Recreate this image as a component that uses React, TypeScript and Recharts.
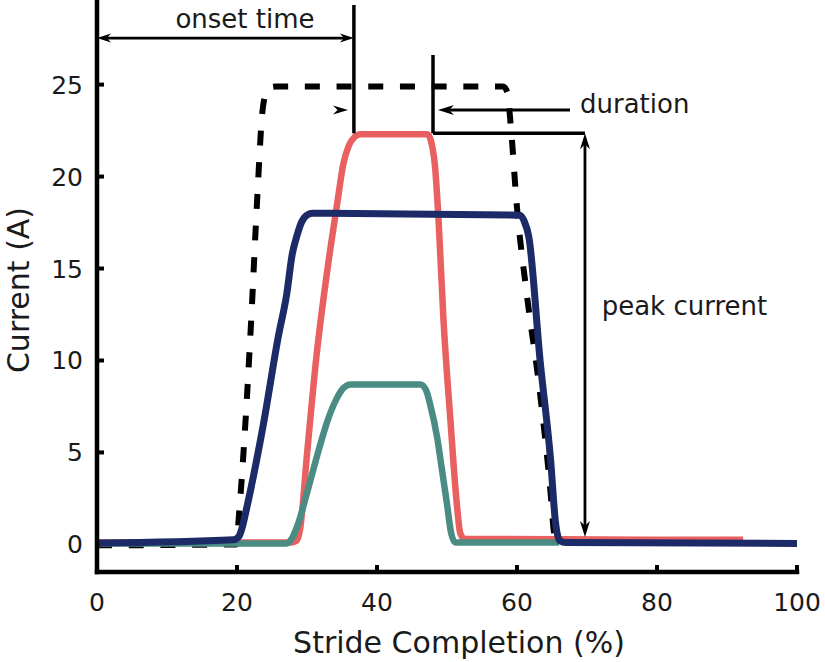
import React from 'react';
import { LineChart, Line, XAxis, YAxis, ReferenceLine, ReferenceDot, Label } from 'recharts';

// axis ticks
const xTicks = [0, 20, 40, 60, 80, 100];
const yTicks = [0, 5, 10, 15, 20, 25];

// commanded profile (dashed)
const cmdX = [0, 19.9, 20.3, 21.2, 22.0, 22.9, 23.6, 24.1, 24.7, 25.6, 58.0, 58.6, 59.1, 60.0, 61.4, 63.3, 64.8, 65.3, 65.8, 66.0];
const cmdY = [-0.05, 0, 1.7, 6.6, 12.0, 18.9, 23.4, 24.5, 24.85, 24.9, 24.9, 24.6, 22.8, 18.3, 13.6, 8.2, 2.8, 0.6, 0, -0.05];

// red series
const redX = [0, 27.8, 28.5, 29.0, 30.0, 31.4, 32.9, 34.3, 35.2, 36.0, 36.8, 37.6, 47.2, 47.8, 48.3, 48.8, 49.5, 50.5, 51.4, 51.9, 52.5, 92.3];
const redY = [0.1, 0.1, 0.2, 0.8, 4.9, 10.4, 14.9, 18.5, 20.7, 21.7, 22.15, 22.3, 22.3, 21.8, 20.5, 17.6, 12.2, 6.7, 2.2, 0.6, 0.3, 0.25];

// teal series
const tealX = [0, 27.0, 27.8, 28.8, 30.0, 31.5, 33.0, 34.2, 35.2, 36.2, 46.2, 47.0, 47.6, 48.6, 49.3, 50.0, 50.6, 51.2, 66.0];
const tealY = [0.05, 0.05, 0.3, 1.2, 2.8, 4.9, 6.8, 7.9, 8.5, 8.7, 8.7, 8.4, 7.6, 5.8, 4.0, 2.2, 0.6, 0.1, 0.1];

// navy series
const navyX = [0, 19.5, 20.3, 20.8, 21.4, 23.8, 25.9, 27.1, 27.9, 28.5, 29.2, 30.0, 30.8, 60.4, 61.0, 61.7, 63.3, 64.8, 65.5, 66.1, 67.0, 100];
const navyY = [0.07, 0.25, 0.45, 1.0, 2.0, 6.6, 11.3, 13.6, 15.8, 16.7, 17.5, 17.9, 18.0, 17.9, 17.6, 16.7, 10.0, 4.6, 1.2, 0.2, 0.1, 0.05];

// annotations (data coordinates)
const onsetX = 36.7;
const onsetArrowY = 27.53;
const onsetLineTop = 29.33;
const peakY = 22.35;
const smallHead = [35.86, 23.62];
const durX = 48.0;
const durTop = 26.61;
const durArrow = [67.57, 48.71, 23.62];
const peakX = 69.71;
const peakBottom = 0.4;
const labels = [
  { text: 'onset time', x: 21.14, y: 28.06, anchor: 'middle' },
  { text: 'duration', x: 69.0, y: 23.44, anchor: 'start' },
  { text: 'peak current', x: 72.1, y: 12.47, anchor: 'start' },
];

const toPts = (xs: number[], ys: number[]) => xs.map((x, i) => ({ x, y: ys[i] }));

const FONT = '"DejaVu Sans", sans-serif';
const INK = '#1a1a1a';

const head = (tx: number, ty: number, fx: number, fy: number, len: number, half: number) => {
  const d = Math.hypot(tx - fx, ty - fy) || 1;
  const ux = (tx - fx) / d;
  const uy = (ty - fy) / d;
  const px = -uy;
  const py = ux;
  const bx = tx - ux * len;
  const by = ty - uy * len;
  const nx = tx - ux * len * 0.7;
  const ny = ty - uy * len * 0.7;
  return `${tx},${ty} ${bx + px * half},${by + py * half} ${nx},${ny} ${bx - px * half},${by - py * half}`;
};

const arrowShape = (atStart: boolean, atEnd: boolean, len: number, half: number, w: number) => (p: any) => {
  const { x1, y1, x2, y2 } = p;
  const d = Math.hypot(x2 - x1, y2 - y1) || 1;
  const ux = (x2 - x1) / d;
  const uy = (y2 - y1) / d;
  const sx = atStart ? x1 + ux * len * 0.6 : x1;
  const sy = atStart ? y1 + uy * len * 0.6 : y1;
  const ex = atEnd ? x2 - ux * len * 0.6 : x2;
  const ey = atEnd ? y2 - uy * len * 0.6 : y2;
  return (
    <g>
      <line x1={sx} y1={sy} x2={ex} y2={ey} stroke="#000" strokeWidth={w} />
      {atStart && <polygon points={head(x1, y1, x2, y2, len, half)} fill="#000" />}
      {atEnd && <polygon points={head(x2, y2, x1, y1, len, half)} fill="#000" />}
    </g>
  );
};

const XTick = (props: any) => {
  const { x, y, payload } = props;
  const axisY = y - 21;
  return (
    <g>
      <line x1={x} y1={axisY} x2={x} y2={axisY - 7} stroke="#000" strokeWidth={4} />
      <text x={x} y={y} dy="0.71em" textAnchor="middle" fontSize={25} fontFamily={FONT} fill={INK}>
        {payload.value}
      </text>
    </g>
  );
};

const YTick = (props: any) => {
  const { x, y, payload } = props;
  const axisX = x + 14;
  return (
    <g>
      {payload.value !== 0 && <line x1={axisX} y1={y} x2={axisX + 7} y2={y} stroke="#000" strokeWidth={4} />}
      <text x={x} y={y} dy="0.36em" textAnchor="end" fontSize={25} fontFamily={FONT} fill={INK}>
        {payload.value}
      </text>
    </g>
  );
};

const App: React.FC = () => {
  return (
    <div style={{ position: 'absolute', left: 0, top: 0, width: 825, height: 662, background: '#fff' }}>
      <LineChart width={825} height={662} margin={{ top: 0, right: 28, left: 0, bottom: 0 }}>
        <XAxis
          type="number"
          dataKey="x"
          domain={[0, 100]}
          ticks={xTicks}
          height={90}
          tickSize={0}
          tickMargin={21}
          tickLine={false}
          tick={<XTick />}
          axisLine={{ stroke: '#000', strokeWidth: 4.5, strokeLinecap: 'square' }}
        >
          <Label
            content={(p: any) => {
              const vb = p.viewBox;
              return (
                <text x={vb.x + vb.width / 2 + 12} y={vb.y + 81} textAnchor="middle" fontSize={30} fontFamily={FONT} fill={INK}>
                  Stride Completion (%)
                </text>
              );
            }}
          />
        </XAxis>
        <YAxis
          type="number"
          domain={[-1.5, 29.6]}
          ticks={yTicks}
          width={97}
          tickSize={0}
          tickMargin={14}
          tickLine={false}
          tick={<YTick />}
          axisLine={{ stroke: '#000', strokeWidth: 4.5, strokeLinecap: 'square' }}
        >
          <Label
            content={(p: any) => {
              const vb = p.viewBox;
              const cx = 18;
              const cy = vb.y + vb.height / 2 + 4;
              return (
                <text x={cx} y={cy} dy="0.36em" textAnchor="middle" fontSize={30} fontFamily={FONT} fill={INK} transform={`rotate(-90 ${cx} ${cy})`}>
                  Current (A)
                </text>
              );
            }}
          />
        </YAxis>

        <Line data={toPts(cmdX, cmdY)} dataKey="y" type="monotone" stroke="#000" strokeWidth={6} strokeDasharray="15 16.7" dot={false} activeDot={false} isAnimationActive={false} />
        <Line data={toPts(redX, redY)} dataKey="y" type="monotone" stroke="#E8605F" strokeWidth={6.5} dot={false} activeDot={false} isAnimationActive={false} />
        <Line data={toPts(tealX, tealY)} dataKey="y" type="monotone" stroke="#4A8C84" strokeWidth={6.5} dot={false} activeDot={false} isAnimationActive={false} />
        <Line data={toPts(navyX, navyY)} dataKey="y" type="monotone" stroke="#1C2A68" strokeWidth={7} dot={false} activeDot={false} isAnimationActive={false} />

        <ReferenceLine segment={[{ x: onsetX, y: onsetLineTop }, { x: onsetX, y: peakY }]} stroke="#000" strokeWidth={3.5} ifOverflow="visible" />
        <ReferenceLine segment={[{ x: 0, y: onsetArrowY }, { x: onsetX, y: onsetArrowY }]} shape={arrowShape(true, true, 14, 4.5, 2.8)} ifOverflow="visible" />
        <ReferenceLine segment={[{ x: smallHead[0] - 2.2, y: smallHead[1] }, { x: smallHead[0], y: smallHead[1] }]} shape={(p: any) => <polygon points={head(p.x2, p.y2, p.x1, p.y1, 15, 4.5)} fill="#000" />} ifOverflow="visible" />
        <ReferenceLine segment={[{ x: durX, y: durTop }, { x: durX, y: peakY }]} stroke="#000" strokeWidth={3.5} ifOverflow="visible" />
        <ReferenceLine segment={[{ x: durX, y: peakY }, { x: peakX, y: peakY }]} stroke="#000" strokeWidth={3.5} ifOverflow="visible" />
        <ReferenceLine segment={[{ x: durArrow[0], y: durArrow[2] }, { x: durArrow[1], y: durArrow[2] }]} shape={arrowShape(false, true, 16, 5, 3)} ifOverflow="visible" />
        <ReferenceLine segment={[{ x: peakX, y: peakY }, { x: peakX, y: peakBottom }]} shape={arrowShape(true, true, 16, 5, 2.8)} ifOverflow="visible" />

        {labels.map((l) => (
          <ReferenceDot
            key={l.text}
            x={l.x}
            y={l.y}
            ifOverflow="visible"
            shape={(p: any) => (
              <text x={p.cx} y={p.cy} textAnchor={l.anchor as any} fontSize={26} fontFamily={FONT} fill={INK}>
                {l.text}
              </text>
            )}
          />
        ))}
      </LineChart>
    </div>
  );
};

export default App;
